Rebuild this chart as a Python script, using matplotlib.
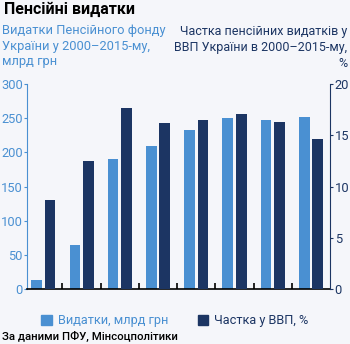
import matplotlib
matplotlib.use("Agg")
from matplotlib import pyplot as plt
from matplotlib.patches import Patch
import numpy as np

plt.rcParams['font.family'] = ['Roboto', 'DejaVu Sans']

years = ['2000', '2005', '2008', '2009', '2010', '2011', '2012', '2013']
spending = [14, 65, 191, 210, 233, 250, 248, 252]          # млрд грн
gdp_share = [8.7, 12.5, 17.7, 16.2, 16.5, 17.1, 16.3, 14.6]  # % ВВП

light = '#4a90d2'
dark = '#1c3563'
bg = '#f5f6fa'

fig = plt.figure(figsize=(3.5, 3.44), dpi=100, facecolor=bg)
ax = fig.add_axes([0.077, 0.159, 0.866, 0.597], facecolor=bg)
ax2 = ax.twinx()

x = np.arange(len(years))
w = 0.28
ax.bar(x - 0.175, spending, w, color=light)
ax2.bar(x + 0.175, gdp_share, w, color=dark)

ax.set_xlim(-0.43, 7.5)
ax.set_ylim(0, 300)
ax2.set_ylim(0, 20)
ax.set_yticks([0, 50, 100, 150, 200, 250, 300])
ax2.set_yticks([0, 5, 10, 15, 20])
ax.set_xticks(x[:-1] + 0.5)
ax.set_xticklabels([])
ax.tick_params(axis='x', direction='in', length=4, width=1.2, color='black')
ax.tick_params(axis='y', colors=light, labelsize=9.3, length=2.5, pad=0.5)
ax2.tick_params(axis='y', colors=dark, labelsize=9.3, length=2.5, pad=0.8)

for a in (ax, ax2):
    a.spines['top'].set_visible(False)
ax.spines['right'].set_visible(False)
ax2.spines['left'].set_visible(False)
ax2.spines['bottom'].set_visible(False)
ax.spines['left'].set_color(light)
ax2.spines['right'].set_color(dark)
ax.spines['bottom'].set_color('black')
ax.spines['bottom'].set_linewidth(1.2)

fig.text(0.012, 0.995, 'Пенсійні видатки', fontsize=11.5, fontweight='bold',
         va='top', ha='left', color='black')
fig.text(0.006, 0.93, 'Видатки Пенсійного фонду\nУкраїни у 2000–2015-му,\nмлрд грн',
         fontsize=9.3, color=light, va='top', ha='left', linespacing=1.27)
fig.text(0.992, 0.928, 'Частка пенсійних видатків у\nВВП України в 2000–2015-му,\n%',
         fontsize=9, color=dark, va='top', ha='right', multialignment='right',
         linespacing=1.32)

handles = [Patch(color=light), Patch(color=dark)]
leg = fig.legend(handles, ['Видатки, млрд грн', 'Частка у ВВП, %'],
                 loc='center', bbox_to_anchor=(0.5, 0.068), ncol=2, frameon=False,
                 fontsize=9.2, handlelength=0.8, handleheight=0.8, handletextpad=0.5,
                 columnspacing=2.3)
for t, c in zip(leg.get_texts(), [light, dark]):
    t.set_color(c)

fig.text(0.006, 0.005, 'За даними ПФУ, Мінсоцполітики', fontsize=8.2,
         fontweight='medium', va='bottom', ha='left', color='black')

fig.savefig('out.png', dpi=100, facecolor=bg)
